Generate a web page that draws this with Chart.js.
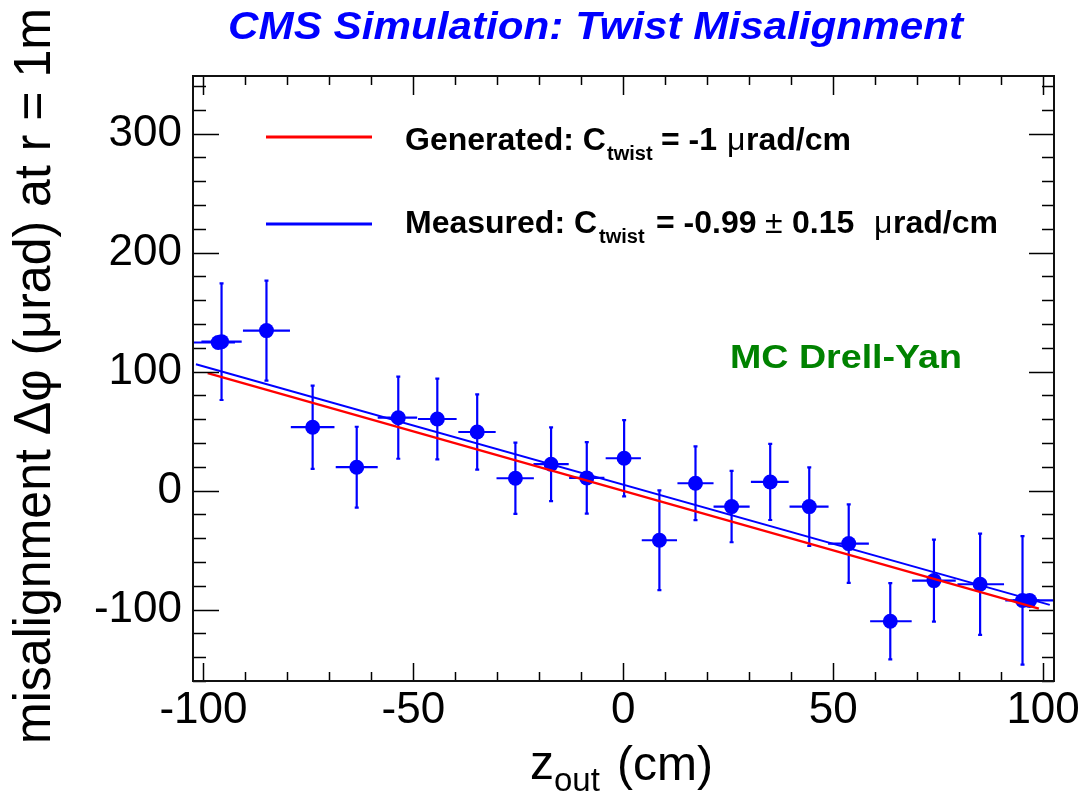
<!DOCTYPE html>
<html>
<head>
<meta charset="utf-8">
<script src="https://cdn.jsdelivr.net/npm/chart.js"></script>
<style>
  html, body { margin: 0; padding: 0; background: #fff; }
  canvas { display: block; }
</style>
</head>
<body>
<canvas id="myChart" width="1089" height="796"></canvas>
<script>
// measured points (z_out in cm, misalignment in µrad)
const zOut = [-96.5, -95.7, -85.0, -74.0, -63.5, -53.6, -44.3, -34.8, -25.7, -17.2, -8.7, 0.2,
    8.6, 17.2, 25.8, 35.0, 44.3, 53.7, 63.6, 74.0, 85.0, 95.1, 96.8];
const dPhi = [124.5, 125.2, 134.5, 53.3, 19.7, 61.3, 60.2, 49.3, 10.4, 22.2, 10.7, 27.2,
    -41.7, 6.2, -13.4, 7.3, -13.4, -44.5, -109.8, -75.6, -78.7, -92.3, -92.3];
const zErrLow = [6.5, 4.8, 5.6, 5.2, 5.0, 4.9, 4.6, 4.5, 4.5, 4.2, 4.2, 4.4,
    4.2, 4.3, 4.3, 4.6, 4.7, 4.9, 4.8, 5.2, 5.4, 4.1, 4.0];
const zErrHigh = [4.0, 4.8, 5.6, 5.2, 5.0, 4.5, 4.6, 4.4, 4.4, 4.2, 4.2, 4.0,
    4.2, 4.3, 4.3, 4.4, 4.6, 4.8, 5.1, 5.2, 5.7, 4.0, 6.5];
const dPhiErr = [0, 49, 42, 35, 34, 34.5, 34, 31.6, 30, 31, 30, 32,
    42, 31, 30, 32, 33, 33, 32, 34.5, 42.5, 54, 0];

// generated and fitted twist lines
const genZ = [-99, 99];
const genPhi = [98.8, -99.2];
const fitZ = [-101.8, 101.6];
const fitPhi = [106.3, -96.0];

const xTickLabels = [-100, -50, 0, 50, 100];
const yTickLabels = [-100, 0, 100, 200, 300];

const FONT = "'Liberation Sans', Arial, Helvetica, sans-serif";

const errorBars = {
    id: "errorBars",
    beforeDatasetsDraw(chart) {
        const { ctx, chartArea: a, scales: { x, y } } = chart;
        ctx.save();
        ctx.beginPath();
        ctx.rect(a.left, a.top, a.right - a.left, a.bottom - a.top);
        ctx.clip();
        ctx.strokeStyle = "#0000ff";
        ctx.lineWidth = 2.2;
        zOut.forEach((z, i) => {
            const px = x.getPixelForValue(z);
            const py = y.getPixelForValue(dPhi[i]);
            ctx.beginPath();
            ctx.moveTo(x.getPixelForValue(z - zErrLow[i]), py);
            ctx.lineTo(x.getPixelForValue(z + zErrHigh[i]), py);
            if (dPhiErr[i] > 0) {
                const t = y.getPixelForValue(dPhi[i] + dPhiErr[i]);
                const b = y.getPixelForValue(dPhi[i] - dPhiErr[i]);
                ctx.moveTo(px, t);
                ctx.lineTo(px, b);
                ctx.moveTo(px - 2, t);
                ctx.lineTo(px + 2, t);
                ctx.moveTo(px - 2, b);
                ctx.lineTo(px + 2, b);
            }
            ctx.stroke();
        });
        ctx.restore();
    },
};

const frameTicks = {
    id: "frameTicks",
    afterDraw(chart) {
        const { ctx, chartArea: a, scales: { x, y } } = chart;
        ctx.save();
        ctx.strokeStyle = "#000";
        ctx.lineWidth = 1.5;
        ctx.beginPath();
        for (let v = -100; v <= 100; v += 10) {
            const px = Math.round(x.getPixelForValue(v)) + 0.5;
            const major = v % 50 === 0;
            ctx.moveTo(px, a.bottom);
            ctx.lineTo(px, a.bottom - (major ? 18 : 9));
            ctx.moveTo(px, a.top);
            ctx.lineTo(px, a.top + (major ? 19 : 9));
        }
        for (let v = -160; v <= 340; v += 20) {
            const py = Math.round(y.getPixelForValue(v)) + 0.5;
            const major = v % 100 === 0;
            ctx.moveTo(a.left, py);
            ctx.lineTo(a.left + (major ? 26 : 13), py);
            ctx.moveTo(a.right, py);
            ctx.lineTo(a.right - (major ? 25 : 12), py);
        }
        ctx.stroke();
        ctx.lineWidth = 2;
        ctx.strokeStyle = "#111";
        ctx.strokeRect(a.left, a.top, a.right - a.left, a.bottom - a.top);
        ctx.restore();
    },
};

function scaledText(ctx, text, x, base, font, color, width) {
    ctx.save();
    ctx.font = font;
    const w = ctx.measureText(text).width;
    ctx.translate(x, base);
    ctx.scale(width / w, 1);
    ctx.fillStyle = color;
    ctx.textBaseline = "alphabetic";
    ctx.fillText(text, 0, 0);
    ctx.restore();
}

function put(ctx, text, x, base, font) {
    ctx.font = font;
    ctx.fillText(text, x, base);
}

const labels = {
    id: "labels",
    afterDraw(chart) {
        const ctx = chart.ctx;
        ctx.save();
        ctx.textBaseline = "alphabetic";
        ctx.textAlign = "left";

        // title
        scaledText(ctx, "CMS Simulation: Twist Misalignment", 228, 39,
            "italic bold 38px " + FONT, "#0000ff", 735);

        // legend lines
        ctx.lineWidth = 3;
        ctx.strokeStyle = "#ff0000";
        ctx.beginPath();
        ctx.moveTo(266, 137);
        ctx.lineTo(372, 137);
        ctx.stroke();
        ctx.strokeStyle = "#0000ff";
        ctx.beginPath();
        ctx.moveTo(266, 224);
        ctx.lineTo(372, 224);
        ctx.stroke();

        // legend text
        ctx.fillStyle = "#000";
        const B = "bold 32px " + FONT;
        const S = "bold 20px " + FONT;
        const R = "32px " + FONT;
        put(ctx, "Generated: C", 405, 150, B);
        put(ctx, "twist", 607, 160, S);
        put(ctx, "= -1", 661, 150, B);
        put(ctx, "μ", 727, 150, R);
        put(ctx, "rad/cm", 746, 150, B);

        put(ctx, "Measured: C", 405, 233, B);
        put(ctx, "twist", 599, 243, S);
        put(ctx, "= -0.99", 656, 233, B);
        put(ctx, "±", 765, 233, R);
        put(ctx, "0.15", 792, 233, B);
        put(ctx, "μ", 874, 233, R);
        put(ctx, "rad/cm", 893, 233, B);

        // sample label
        scaledText(ctx, "MC Drell-Yan", 730, 368, "bold 33px " + FONT, "#008200", 232);

        // x axis title
        ctx.fillStyle = "#000";
        put(ctx, "z", 530, 779, "48px " + FONT);
        put(ctx, "out", 554, 791, "33px " + FONT);
        put(ctx, "(cm)", 617, 780, "48px " + FONT);

        // y axis title
        ctx.save();
        ctx.translate(50, 376);
        ctx.rotate(-Math.PI / 2);
        ctx.textAlign = "center";
        ctx.font = "52px " + FONT;
        const yt = "misalignment Δφ (μrad) at r = 1m";
        const w = ctx.measureText(yt).width;
        ctx.scale(736 / w, 1);
        ctx.fillText(yt, 0, 0);
        ctx.restore();

        ctx.restore();
    },
};

const config = {
    type: "scatter",
    data: {
        datasets: [
            {
                label: "Measured fit",
                data: fitZ.map((z, i) => ({ x: z, y: fitPhi[i] })),
                showLine: true,
                borderColor: "#0000ff",
                borderWidth: 2,
                pointRadius: 0,
                order: 0,
            },
            {
                label: "Generated",
                data: genZ.map((z, i) => ({ x: z, y: genPhi[i] })),
                showLine: true,
                borderColor: "#ff0000",
                borderWidth: 2.2,
                pointRadius: 0,
                order: 1,
            },
            {
                label: "MC Drell-Yan",
                data: zOut.map((z, i) => ({ x: z, y: dPhi[i] })),
                backgroundColor: "#0000ff",
                borderWidth: 0,
                pointRadius: 7.5,
                order: 2,
            },
        ],
    },
    options: {
        responsive: false,
        animation: false,
        devicePixelRatio: 1,
        layout: {
            padding: { top: 76, right: 35, left: 0, bottom: 0 },
        },
        scales: {
            x: {
                type: "linear",
                min: -102.5,
                max: 102.6,
                afterBuildTicks: (s) => { s.ticks = xTickLabels.map((v) => ({ value: v })); },
                afterFit: (s) => { s.height = 115; },
                grid: { display: false, drawTicks: false, tickLength: 0 },
                border: { display: false },
                ticks: {
                    autoSkip: false,
                    maxRotation: 0,
                    padding: 3,
                    color: "#000",
                    font: { family: FONT, size: 44 },
                    callback: (v) => String(v),
                },
            },
            y: {
                type: "linear",
                min: -160,
                max: 348.5,
                afterBuildTicks: (s) => { s.ticks = yTickLabels.map((v) => ({ value: v })); },
                afterFit: (s) => { s.width = 193; },
                grid: { display: false, drawTicks: false, tickLength: 0 },
                border: { display: false },
                ticks: {
                    autoSkip: false,
                    padding: 11,
                    color: "#000",
                    font: { family: FONT, size: 44 },
                    callback: (v) => String(v),
                },
            },
        },
        plugins: {
            legend: { display: false },
            tooltip: { enabled: false },
        },
    },
    plugins: [errorBars, frameTicks, labels],
};

const myChart = new Chart(document.getElementById("myChart").getContext("2d"), config);
</script>
</body>
</html>
